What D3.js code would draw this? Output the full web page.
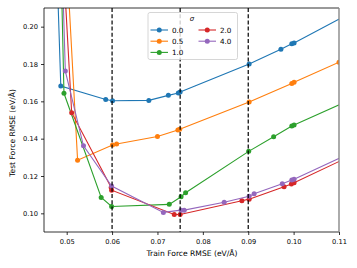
<!DOCTYPE html>
<html><head><meta charset="utf-8">
<script src="https://cdn.jsdelivr.net/npm/d3@7"></script>
<style>body{margin:0;background:#fff}svg{display:block}</style>
</head><body>
<script>
const sigmas = ["0.0","0.5","1.0","2.0","4.0"];
const colors = ["#1f77b4","#ff7f0e","#2ca02c","#d62728","#9467bd"];
const blueX = [0.0476,0.0487,0.0586,0.0601,0.0681,0.0724,0.0746,0.0750,0.0902,0.0972,0.0996,0.1001,0.1115];
const blueY = [0.25,0.1682,0.1610,0.1603,0.1605,0.1632,0.1645,0.1650,0.1800,0.1879,0.1908,0.1913,0.2060];
const orangeX = [0.0497,0.0524,0.0601,0.0610,0.0700,0.0745,0.0749,0.0902,0.0996,0.1001,0.1100];
const orangeY = [0.25,0.1285,0.1366,0.1371,0.1412,0.1446,0.1450,0.1596,0.1696,0.1702,0.1810];
const greenX = [0.0486,0.0494,0.0576,0.0599,0.0726,0.0752,0.0762,0.0901,0.0956,0.0996,0.1001,0.1115];
const greenY = [0.25,0.1643,0.1085,0.1037,0.1048,0.1089,0.1110,0.1332,0.1410,0.1468,0.1473,0.1597];
const redX = [0.0489,0.0511,0.0598,0.0599,0.0737,0.0750,0.0886,0.0902,0.0979,0.0995,0.1001,0.1115];
const redY = [0.25,0.1539,0.1139,0.1124,0.0994,0.0994,0.1067,0.1076,0.1142,0.1157,0.1164,0.1295];
const purpleX = [0.0488,0.0497,0.0537,0.0599,0.0713,0.0752,0.0759,0.0847,0.0902,0.0913,0.0975,0.0996,0.1001,0.1115];
const purpleY = [0.25,0.1762,0.1362,0.1146,0.1005,0.1017,0.1017,0.1059,0.1092,0.1105,0.1158,0.1178,0.1182,0.1311];
const vlines = [0.06,0.075,0.09];
const xTicks = [0.05,0.06,0.07,0.08,0.09,0.10,0.11];
const yTicks = [0.10,0.12,0.14,0.16,0.18,0.20];
const xLabel = "Train Force RMSE (eV/Å)";
const yLabel = "Test Force RMSE (eV/Å)";

const series = [[blueX,blueY],[orangeX,orangeY],[greenX,greenY],[redX,redY],[purpleX,purpleY]];

const W=357,H=268, L=44,R=339,T=8,B=232;
const svg=d3.select("body").append("svg").attr("width",W).attr("height",H);
const x=d3.scaleLinear().domain([0.045,0.11]).range([L,R]);
const y=d3.scaleLinear().domain([0.09,0.21]).range([B,T]);
const font="DejaVu Sans";

svg.append("defs").append("clipPath").attr("id","clip")
  .append("rect").attr("x",L).attr("y",T).attr("width",R-L).attr("height",B-T);

const g=svg.append("g").attr("clip-path","url(#clip)");
const line=d3.line().x(d=>x(d[0])).y(d=>y(d[1]));
series.forEach((s,i)=>{
  const pts=s[0].map((v,j)=>[v,s[1][j]]);
  g.append("path").attr("d",line(pts)).attr("fill","none").attr("stroke",colors[i]).attr("stroke-width",1.1);
  g.selectAll(null).data(pts).enter().append("circle")
   .attr("cx",d=>x(d[0])).attr("cy",d=>y(d[1])).attr("r",2.5).attr("fill",colors[i]);
});
vlines.forEach(v=>{
  g.append("line").attr("x1",x(v)).attr("x2",x(v)).attr("y1",T).attr("y2",B)
   .attr("stroke","#000").attr("stroke-width",1.2).attr("stroke-dasharray","4,2.2");
});

// axes
const xa=svg.append("g").attr("transform",`translate(0,${B})`)
  .call(d3.axisBottom(x).tickValues(xTicks).tickFormat(d3.format(".2f")).tickSize(3).tickSizeOuter(0));
const ya=svg.append("g").attr("transform",`translate(${L},0)`)
  .call(d3.axisLeft(y).tickValues(yTicks).tickFormat(d3.format(".2f")).tickSize(3).tickSizeOuter(0));
[xa,ya].forEach(a=>{
  a.select(".domain").remove();
  a.selectAll("line").attr("stroke","#000").attr("stroke-width",0.8);
  a.selectAll("text").attr("font-family",font).attr("font-size",6.7).attr("fill","#000");
});
xa.selectAll("text").attr("dy","0.95em");
// spines
svg.append("line").attr("x1",L).attr("x2",L).attr("y1",T).attr("y2",B).attr("stroke","#000").attr("stroke-width",0.8);
svg.append("line").attr("x1",L).attr("x2",R).attr("y1",B).attr("y2",B).attr("stroke","#000").attr("stroke-width",0.8);
svg.append("line").attr("x1",L).attr("x2",R).attr("y1",T).attr("y2",T).attr("stroke","#000").attr("stroke-width",0.8);
svg.append("line").attr("x1",R).attr("x2",R).attr("y1",T).attr("y2",B).attr("stroke","#888").attr("stroke-width",1.4);

svg.append("text").attr("x",192).attr("y",256).attr("text-anchor","middle")
  .attr("font-family",font).attr("font-size",7.6).text(xLabel);
svg.append("text").attr("transform",`translate(12.5,${(T+B)/2+13}) rotate(-90)`).attr("text-anchor","middle")
  .attr("dy","0.35em").attr("font-family",font).attr("font-size",7.6).text(yLabel);

// legend
const lg=svg.append("g");
lg.append("rect").attr("x",148).attr("y",12.5).attr("width",89.5).attr("height",47).attr("rx",2)
  .attr("fill","#fff").attr("fill-opacity",0.8).attr("stroke","#ccc").attr("stroke-width",0.8);
lg.append("text").attr("x",192).attr("y",20.5).attr("text-anchor","middle").attr("font-family",font)
  .attr("font-style","italic").attr("font-size",7).text("σ");
sigmas.forEach((s,i)=>{
  const col=i<3?0:1, row=i<3?i:i-3;
  const lx=col===0?150.5:198.5, ly=30+row*11.2;
  lg.append("line").attr("x1",lx).attr("x2",lx+17.5).attr("y1",ly).attr("y2",ly).attr("stroke",colors[i]).attr("stroke-width",1.1);
  lg.append("circle").attr("cx",lx+8.75).attr("cy",ly).attr("r",2.5).attr("fill",colors[i]);
  lg.append("text").attr("x",lx+21.5).attr("y",ly).attr("dy","0.35em").attr("font-family",font).attr("font-size",7.2).text(s);
});
</script>
</body></html>
